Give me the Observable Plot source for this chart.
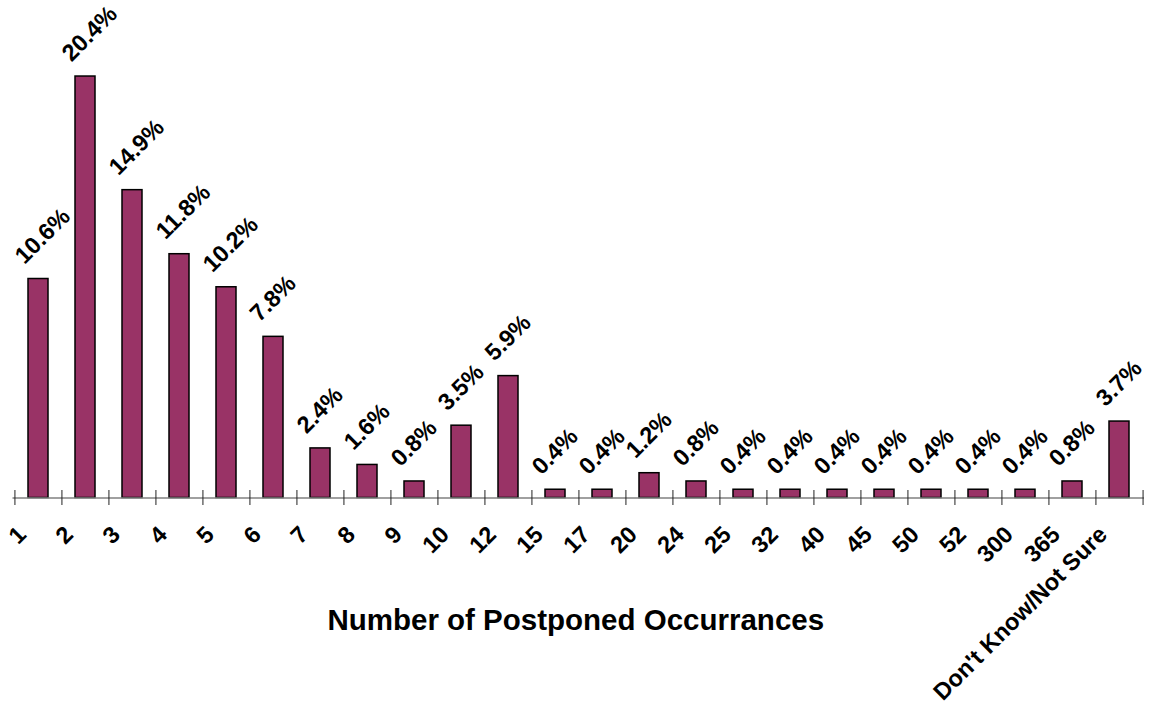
<!DOCTYPE html>
<html>
<head>
<meta charset="utf-8">
<script src="https://cdn.jsdelivr.net/npm/d3@7"></script>
<script src="https://cdn.jsdelivr.net/npm/@observablehq/plot@0.6"></script>
<style>
  html, body { margin: 0; padding: 0; background: #fff; }
  #chart svg { display: block; font-family: "Liberation Sans", Arial, sans-serif; }
</style>
</head>
<body>
<div id="chart"></div>
<script>
const categories = ["1","2","3","4","5","6","7","8","9","10","12","15","17","20","24","25","32","40","45","50","52","300","365","Don't Know/Not Sure"];
const percents = [10.6,20.4,14.9,11.8,10.2,7.8,2.4,1.6,0.8,3.5,5.9,0.4,0.4,1.2,0.8,0.4,0.4,0.4,0.4,0.4,0.4,0.4,0.8,3.7];
const xTitle = "Number of Postponed Occurrances";

const data = categories.map((c, i) => ({cat: c, value: percents[i]}));

const W = 1151, H = 708;
const mLeft = 12.5, mRight = 7, mTop = 0, mBottom = 210.5;
const step = (W - mLeft - mRight) / categories.length;

const chart = Plot.plot({
  width: W,
  height: H,
  marginLeft: mLeft,
  marginRight: mRight,
  marginTop: mTop,
  marginBottom: mBottom,
  x: {domain: categories, paddingInner: 0.57, paddingOuter: 0.285, axis: null},
  y: {domain: [0, 24.08], axis: null},
  marks: [
    Plot.barY(data, {x: "cat", y: "value", fill: "#993366", stroke: "#000", strokeWidth: 1.5}),
    Plot.ruleY([0], {stroke: "#808080", strokeWidth: 1.5}),
    Plot.ruleX(categories, {x: d => d, y1: 0, y2: 0, dx: -step / 2, stroke: "#222", strokeWidth: 1, insetTop: -7.5, insetBottom: -7.5}),
    Plot.ruleX([categories[categories.length - 1]], {x: d => d, y1: 0, y2: 0, dx: step / 2, stroke: "#222", strokeWidth: 1, insetTop: -7.5, insetBottom: -7.5}),
    Plot.text(data, {x: "cat", y: "value", text: d => d.value.toFixed(1) + "%", rotate: -45, textAnchor: "start", lineAnchor: "bottom", dx: -14, dy: -14, fontSize: 23.5, fontWeight: "bold", fill: "#000"}),
    Plot.text(categories, {x: d => d, y: () => 0, text: d => d, rotate: -45, textAnchor: "end", lineAnchor: "bottom", dx: -11, dy: 38, fontSize: 23.5, fontWeight: "bold", fill: "#000"}),
    Plot.text([xTitle], {frameAnchor: "bottom", text: d => d, lineAnchor: "bottom", dy: 132, dx: -3, fontSize: 29.5, fontWeight: "bold", fill: "#000"})
  ]
});
document.getElementById("chart").append(chart);
</script>
</body>
</html>
